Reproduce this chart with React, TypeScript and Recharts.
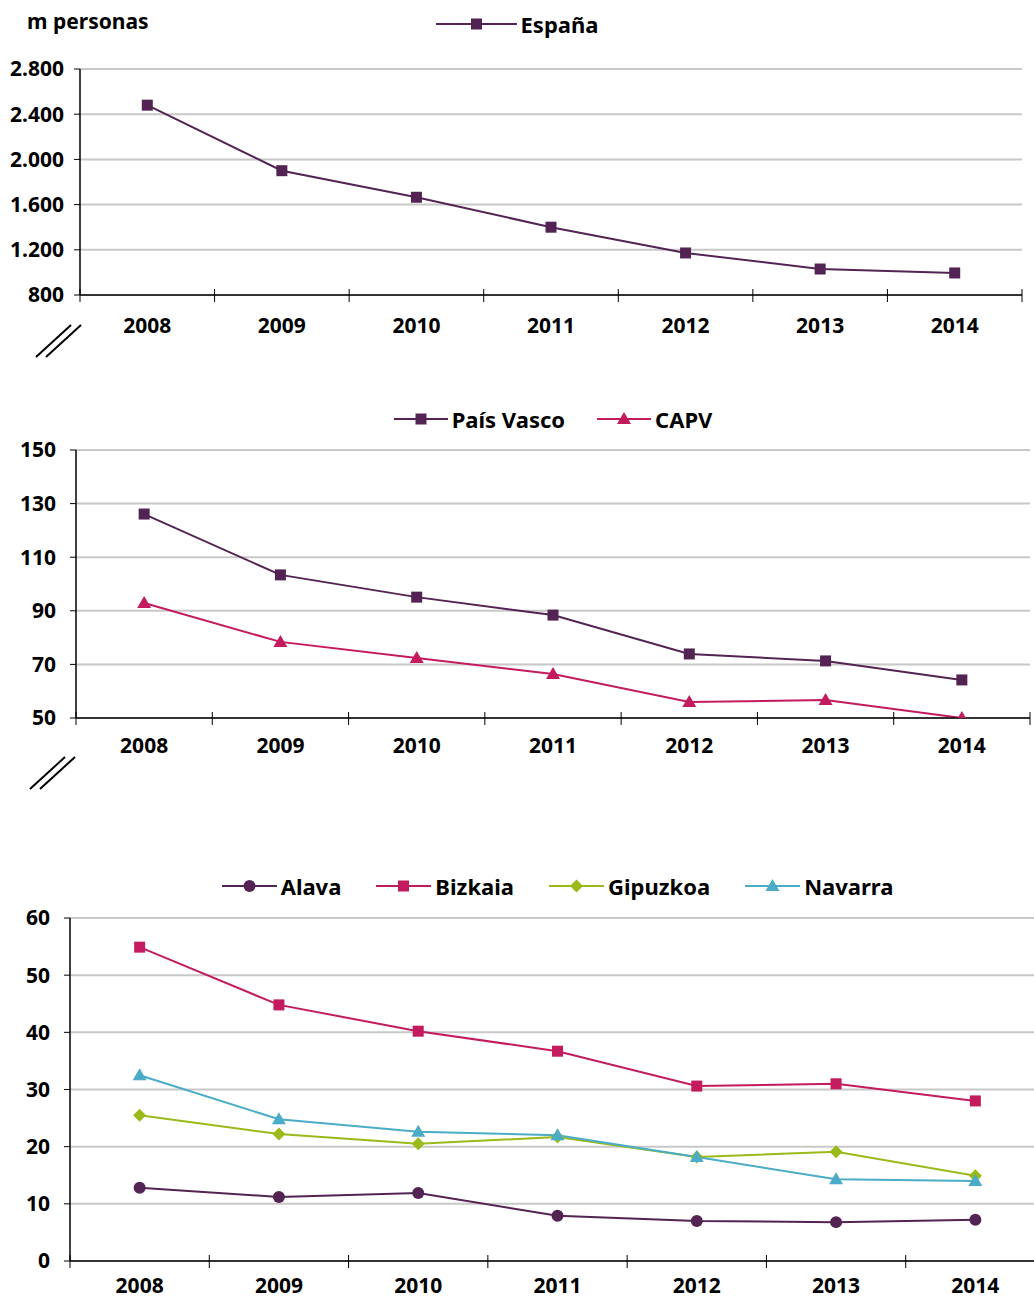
import React from 'react';
import { LineChart, Line, XAxis, YAxis, CartesianGrid } from 'recharts';

// Años (categorías del eje X)
const years = ['2008', '2009', '2010', '2011', '2012', '2013', '2014'];

// Miles de personas
const espana = [2480, 1900, 1665, 1400, 1172, 1030, 995];
const paisVasco = [126.1, 103.4, 95.1, 88.4, 73.9, 71.3, 64.2];
const capv = [92.9, 78.4, 72.4, 66.4, 56.0, 56.7, 50.0];
const alava = [12.8, 11.2, 11.9, 7.9, 7.0, 6.8, 7.2];
const bizkaia = [54.9, 44.8, 40.2, 36.7, 30.6, 31.0, 28.0];
const gipuzkoa = [25.5, 22.2, 20.5, 21.7, 18.2, 19.1, 14.9];
const navarra = [32.5, 24.8, 22.6, 22.0, 18.2, 14.3, 14.0];

const ticksEspana = [800, 1200, 1600, 2000, 2400, 2800];
const ticksVasco = [50, 70, 90, 110, 130, 150];
const ticksProv = [0, 10, 20, 30, 40, 50, 60];

const PURPLE = '#532354';
const MAGENTA = '#c31b5e';
const GREEN = '#9aba1a';
const CYAN = '#4aacc6';

const FONT = "'Noto Sans', sans-serif";

type Shape = 'square' | 'triangle' | 'circle' | 'diamond';

// Build rows: categories are placed at band centres on a 0..7 numeric axis
const rows = years.map((year, i) => ({
  year,
  x: i + 0.5,
  espana: espana[i],
  paisVasco: paisVasco[i],
  capv: capv[i],
  alava: alava[i],
  bizkaia: bizkaia[i],
  gipuzkoa: gipuzkoa[i],
  navarra: navarra[i],
}));

// band edges and centres for the x axis
const xTicks: number[] = [];
for (let i = 0; i <= years.length * 2; i++) xTicks.push(i / 2);

const fmtThousands = (v: number) => {
  const s = String(Math.round(v));
  return s.replace(/\B(?=(\d{3})+(?!\d))/g, '.');
};

function Marker({ shape, cx, cy, color }: { shape: Shape; cx: number; cy: number; color: string }) {
  if (cx == null || cy == null || isNaN(cx) || isNaN(cy)) return null;
  switch (shape) {
    case 'square':
      return <rect x={cx - 5.5} y={cy - 5.5} width={11} height={11} fill={color} />;
    case 'triangle':
      return <polygon points={`${cx},${cy - 7} ${cx - 7},${cy + 5} ${cx + 7},${cy + 5}`} fill={color} />;
    case 'circle':
      return <circle cx={cx} cy={cy} r={6} fill={color} />;
    case 'diamond':
      return <polygon points={`${cx},${cy - 6.5} ${cx + 6.5},${cy} ${cx},${cy + 6.5} ${cx - 6.5},${cy}`} fill={color} />;
  }
  return null;
}

const dotFor = (shape: Shape, color: string) => (props: any) => (
  <Marker key={`${shape}-${props.index}`} shape={shape} cx={props.cx} cy={props.cy} color={color} />
);

// x-axis tick: integer values are band edges (cross ticks), half values carry the year label
const makeXTick = (labelDy: number) => (props: any) => {
  const { x, y, payload } = props;
  const v = payload.value as number;
  if (Number.isInteger(v)) {
    return <line x1={x} x2={x} y1={y - 6} y2={y + 7} stroke="#000" strokeWidth={1} />;
  }
  const idx = Math.floor(v);
  return (
    <text x={x} y={y + labelDy} textAnchor="middle" dominantBaseline="central"
      fontFamily={FONT} fontWeight={700} fontSize={21} fill="#000">
      {years[idx]}
    </text>
  );
};

type Series = { key: string; name: string; color: string; shape: Shape };

function LegendRow({ items, left, width, top, lineLen, gap }: {
  items: Series[]; left: number; width: number; top: number; lineLen: number; gap: number;
}) {
  return (
    <div style={{
      position: 'absolute', left, width, top, height: 30, display: 'flex',
      justifyContent: 'center', alignItems: 'center', gap,
      fontFamily: FONT, fontWeight: 700, fontSize: 22, color: '#000',
    }}>
      {items.map((s) => (
        <div key={s.key} style={{ display: 'flex', alignItems: 'center' }}>
          <svg width={lineLen} height={16} style={{ display: 'block' }}>
            <line x1={0} x2={lineLen} y1={8} y2={8} stroke={s.color} strokeWidth={2} />
            <Marker shape={s.shape} cx={lineLen / 2} cy={8} color={s.color} />
          </svg>
          <span style={{ marginLeft: 4, lineHeight: '30px', whiteSpace: 'nowrap' }}>{s.name}</span>
        </div>
      ))}
    </div>
  );
}

function BreakMark({ x, y }: { x: number; y: number }) {
  return (
    <svg style={{ position: 'absolute', left: x, top: y }} width={50} height={36}>
      <line x1={1} y1={33} x2={36} y2={1} stroke="#000" strokeWidth={2} />
      <line x1={11} y1={33} x2={46} y2={1} stroke="#000" strokeWidth={2} />
    </svg>
  );
}

const tickStyle = { fontFamily: FONT, fontWeight: 700, fontSize: 21, fill: '#000' };

const seriesEspana: Series[] = [{ key: 'espana', name: 'España', color: PURPLE, shape: 'square' }];
const seriesVasco: Series[] = [
  { key: 'paisVasco', name: 'País Vasco', color: PURPLE, shape: 'square' },
  { key: 'capv', name: 'CAPV', color: MAGENTA, shape: 'triangle' },
];
const seriesProv: Series[] = [
  { key: 'alava', name: 'Alava', color: PURPLE, shape: 'circle' },
  { key: 'bizkaia', name: 'Bizkaia', color: MAGENTA, shape: 'square' },
  { key: 'gipuzkoa', name: 'Gipuzkoa', color: GREEN, shape: 'diamond' },
  { key: 'navarra', name: 'Navarra', color: CYAN, shape: 'triangle' },
];

function Panel({ top, width, height, margin, yWidth, domain, ticks, yFmt, tickMargin, labelDy, series }: any) {
  return (
    <div style={{ position: 'absolute', left: 0, top }}>
      <LineChart width={width} height={height} data={rows} margin={margin}>
        <CartesianGrid horizontal vertical={false} stroke="#c8c8c8" strokeWidth={2} />
        <XAxis dataKey="x" type="number" domain={[0, 7]} ticks={xTicks} interval={0}
          allowDataOverflow height={30} tickSize={0} tickMargin={0}
          axisLine={{ stroke: '#000', strokeWidth: 1.5 }} tickLine={false}
          tick={makeXTick(labelDy)} />
        <YAxis type="number" domain={domain} ticks={ticks} interval={0} width={yWidth}
          allowDataOverflow tickFormatter={yFmt}
          axisLine={{ stroke: '#000', strokeWidth: 1.5 }} tickLine={{ stroke: '#000' }}
          tickSize={6} tickMargin={tickMargin} tick={tickStyle} />
        {series.map((s: Series) => (
          <Line key={s.key} dataKey={s.key} name={s.name} type="linear" stroke={s.color}
            strokeWidth={2} dot={dotFor(s.shape, s.color)} activeDot={false}
            isAnimationActive={false} />
        ))}
      </LineChart>
    </div>
  );
}

export default function App() {
  return (
    <div style={{ position: 'absolute', left: 0, top: 0, width: 1034, height: 1298, overflow: 'hidden', background: '#fff' }}>
      <div style={{
        position: 'absolute', left: 27, top: 7, fontFamily: FONT, fontWeight: 700,
        fontSize: 21, color: '#000', lineHeight: '28px',
      }}>m personas</div>

      <Panel top={0} width={1034} height={340}
        margin={{ top: 69, right: 12, bottom: 15, left: 20 }} yWidth={60}
        domain={[800, 2800]} ticks={ticksEspana} yFmt={fmtThousands} tickMargin={10}
        labelDy={30} series={seriesEspana} />
      <LegendRow items={seriesEspana} left={0} width={1034} top={9} lineLen={81} gap={32} />
      <BreakMark x={35} y={324} />

      <Panel top={380} width={1034} height={400}
        margin={{ top: 70, right: 4, bottom: 32, left: 16 }} yWidth={60}
        domain={[50, 150]} ticks={ticksVasco} yFmt={(v: number) => String(v)} tickMargin={14}
        labelDy={27} series={seriesVasco} />
      <LegendRow items={seriesVasco} left={76} width={954} top={404} lineLen={54} gap={32} />
      <BreakMark x={29} y={756} />

      <Panel top={850} width={1060} height={448}
        margin={{ top: 68, right: 15, bottom: 7, left: 10 }} yWidth={60}
        domain={[0, 60]} ticks={ticksProv} yFmt={(v: number) => String(v)} tickMargin={14}
        labelDy={24} series={seriesProv} />
      <LegendRow items={seriesProv} left={70} width={975} top={871} lineLen={55} gap={35} />
    </div>
  );
}
